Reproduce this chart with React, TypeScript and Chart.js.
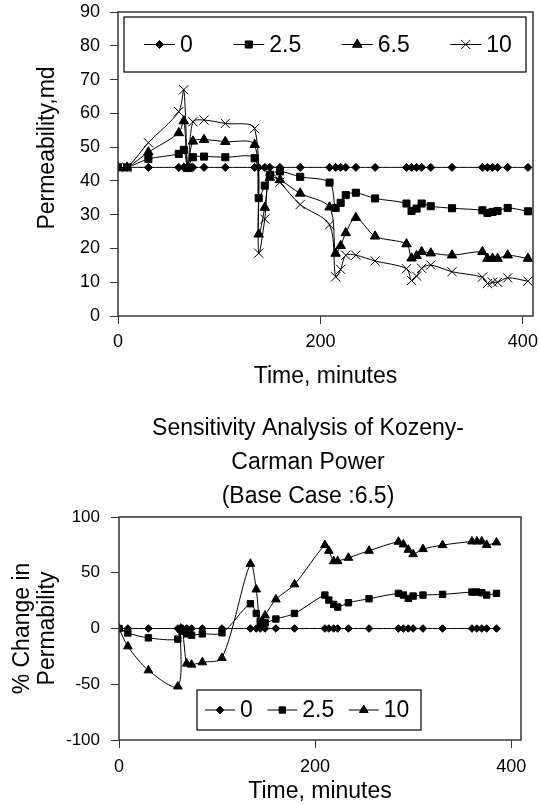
import React, { useEffect, useRef } from "react";
import { Chart, registerables } from "chart.js";
import { drawPoint } from "chart.js/helpers";

Chart.register(...registerables);

const FONT = '"Liberation Sans", Arial, Helvetica, sans-serif';

// ---------- Top chart: Permeability vs time ----------
const TOP_SERIES = ["0", "2.5", "6.5", "10"];
const TOP_TIME = [0, 9, 30, 60, 65, 69, 74, 85, 106, 135, 139, 145, 150, 160, 180, 209, 215, 220, 225, 235, 254, 285, 290, 295, 300, 309, 330, 360, 365, 370, 375, 385, 405];
const TOP_P0 = [44, 44, 44, 44, 44, 44, 44, 44, 44, 44, 44, 44, 44, 44, 44, 44, 44, 44, 44, 44, 44, 44, 44, 44, 44, 44, 44, 44, 44, 44, 44, 44, 44];
const TOP_P25 = [44, 44, 46.5, 48, 49.2, 43.8, 47, 47.2, 47, 46.7, 34.9, 38.6, 41.8, 42.8, 41.2, 39.5, 32, 33.5, 35.8, 36.5, 34.8, 33.3, 31.1, 31.8, 33.3, 32.5, 31.9, 31.3, 30.5, 30.8, 31.1, 32, 31];
const TOP_P65 = [44, 44, 48.5, 54.2, 57.7, 44, 51.7, 52.2, 51.6, 50.7, 24.2, 32.1, 41, 40.3, 36.3, 32.2, 18.5, 20.8, 24.6, 29.1, 23.6, 21.3, 17.1, 17.8, 19, 18.6, 18, 19, 17, 17, 17, 18, 17];
const TOP_P10 = [44, 44, 51.3, 60.5, 67, 44, 57.5, 58, 57, 55.5, 18.6, 28.7, 43, 39.6, 33, 27, 11.6, 13.8, 18, 18, 16.3, 14, 10.5, 11.8, 14.1, 15.1, 13.1, 11.5, 9.6, 10, 10, 11.3, 10.3];
const TOP_X_TICKS = [0, 200, 400];
const TOP_Y_TICKS = [0, 10, 20, 30, 40, 50, 60, 70, 80, 90];
const TOP_X_TITLE = "Time, minutes";
const TOP_Y_TITLE = "Permeability,md";

// ---------- Bottom chart: % change ----------
const BOT_SERIES = ["0", "2.5", "10"];
const BOT_TIME = [0, 9, 30, 60, 63, 65, 69, 74, 85, 105, 134, 140, 144, 149, 160, 179, 210, 214, 219, 223, 234, 255, 285, 290, 295, 300, 310, 330, 360, 365, 370, 375, 385];
const BOT_C0 = [0, 0, 0, 0, 0, 0, 0, 0, 0, 0, 0, 0, 0, 0, 0, 0, 0, 0, 0, 0, 0, 0, 0, 0, 0, 0, 0, 0, 0, 0, 0, 0, 0];
const BOT_C25 = [0, -4, -8.4, -9.5, -1, -2, -4.8, -6, -4.8, -3.9, 22.2, 13.5, 6.6, 5.1, 8.5, 13.5, 30, 25.5, 21.6, 19.2, 23.1, 26.7, 31.5, 30, 27, 29.1, 30, 30.6, 32.7, 32.7, 32.1, 30, 31.5];
const BOT_C10 = [0, -16, -37.5, -52, 0, -3, -31.5, -32.4, -30.3, -26.4, 58, 35, 3, 11.7, 26.1, 39.6, 74.8, 69.7, 60.4, 60.4, 63.4, 69.7, 77.8, 75.4, 70.6, 66.7, 71.2, 74.8, 78.1, 78.1, 78.1, 75, 77.2];
const BOT_X_TICKS = [0, 200, 400];
const BOT_Y_TICKS = [-100, -50, 0, 50, 100];
const BOT_TITLE = ["Sensitivity Analysis of Kozeny-", "Carman Power", "(Base Case :6.5)"];
const BOT_X_TITLE = "Time, minutes";
const BOT_Y_TITLE = ["% Change in", "Permability"];

function series(label: string, time: number[], vals: number[], style: string, radius: number) {
  return {
    label,
    data: vals.map((v, i) => ({ x: time[i], y: v })),
    borderColor: "#000",
    backgroundColor: "#000",
    borderWidth: 1,
    pointStyle: style,
    pointRadius: radius,
    pointHoverRadius: radius,
    pointBackgroundColor: "#000",
    pointBorderColor: "#000",
    pointBorderWidth: 1,
    tension: 0.3,
    fill: false,
  };
}

const framePlugin = {
  id: "frame",
  afterDatasetsDraw(chart: any) {
    const { ctx, chartArea: a } = chart;
    ctx.save();
    ctx.strokeStyle = "#333";
    ctx.lineWidth = 1.5;
    ctx.strokeRect(a.left, a.top, a.right - a.left, a.bottom - a.top);
    ctx.restore();
  },
};

function makeLegend(cfg: any) {
  return {
    id: "boxLegend",
    afterDraw(chart: any) {
      const { ctx, chartArea: a } = chart;
      const left = a.left + cfg.offsetX;
      const top = cfg.anchor === "bottom" ? a.bottom - cfg.offsetY - cfg.height : a.top + cfg.offsetY;
      ctx.save();
      ctx.fillStyle = "#fff";
      ctx.fillRect(left, top, cfg.width, cfg.height);
      ctx.strokeStyle = "#000";
      ctx.lineWidth = 1.2;
      ctx.strokeRect(left, top, cfg.width, cfg.height);
      ctx.font = `${cfg.fontSize}px ${FONT}`;
      ctx.textBaseline = "middle";
      ctx.textAlign = "left";
      const cy = top + cfg.height / 2;
      let x = left + cfg.padLeft;
      chart.data.datasets.forEach((ds: any) => {
        ctx.strokeStyle = "#000";
        ctx.lineWidth = 1;
        ctx.beginPath();
        ctx.moveTo(x, cy);
        ctx.lineTo(x + cfg.lineLen, cy);
        ctx.stroke();
        ctx.fillStyle = "#000";
        drawPoint(ctx, { pointStyle: ds.pointStyle, radius: ds.pointRadius, rotation: 0, borderWidth: 1 } as any, x + cfg.lineLen / 2, cy);
        const tx = x + cfg.lineLen + cfg.gap;
        ctx.fillStyle = "#000";
        ctx.fillText(ds.label, tx, cy + 1);
        x = tx + ctx.measureText(ds.label).width + cfg.itemGap;
      });
      ctx.restore();
    },
  };
}

function makeText(items: any[]) {
  return {
    id: "freeText",
    afterDraw(chart: any) {
      const { ctx, chartArea: a } = chart;
      items.forEach((it) => {
        ctx.save();
        ctx.font = `${it.size}px ${FONT}`;
        ctx.fillStyle = "#000";
        ctx.textAlign = "center";
        ctx.textBaseline = "middle";
        const cx = it.fromCenter ? (a.left + a.right) / 2 + it.x : it.x;
        ctx.translate(cx, it.y);
        if (it.rotate) ctx.rotate(it.rotate);
        it.lines.forEach((ln: string, i: number) => ctx.fillText(ln, 0, i * it.lineHeight));
        ctx.restore();
      });
    },
  };
}

function tickAxis(ticks: number[], min: number, max: number, fit: (s: any) => void, tickSize: number, pad: number, title: any) {
  return {
    type: "linear",
    min,
    max,
    afterBuildTicks: (s: any) => {
      s.ticks = ticks.map((v) => ({ value: v }));
    },
    afterFit: (s: any) => {
      fit(s);
      s.paddingLeft = 0;
      s.paddingRight = 0;
      s.paddingTop = 0;
      s.paddingBottom = 0;
    },
    ticks: { font: { family: FONT, size: tickSize }, color: "#000", padding: pad, maxRotation: 0, autoSkip: false },
    grid: { display: true, drawOnChartArea: false, drawTicks: true, tickLength: 8, color: "#333", lineWidth: 1 },
    border: { display: false },
    title,
  };
}

export default function App() {
  const topRef = useRef<HTMLCanvasElement>(null);
  const botRef = useRef<HTMLCanvasElement>(null);

  useEffect(() => {
    const top = new Chart(topRef.current as HTMLCanvasElement, {
      type: "line",
      data: {
        datasets: [
          series(TOP_SERIES[0], TOP_TIME, TOP_P0, "rectRot", 4),
          series(TOP_SERIES[1], TOP_TIME, TOP_P25, "rect", 5),
          series(TOP_SERIES[2], TOP_TIME, TOP_P65, "triangle", 5.5),
          series(TOP_SERIES[3], TOP_TIME, TOP_P10, "crossRot", 6.5),
        ] as any,
      },
      options: {
        animation: false,
        responsive: false,
        devicePixelRatio: 1,
        events: [],
        layout: { autoPadding: false, padding: { top: 12, right: 7, left: 0, bottom: 0 } },
        plugins: { legend: { display: false }, tooltip: { enabled: false }, title: { display: false } },
        scales: {
          x: tickAxis(TOP_X_TICKS, 0, 410, (s: any) => { s.height = 84; }, 18, 7, {
            display: true, text: TOP_X_TITLE, color: "#000",
            font: { family: FONT, size: 23, lineHeight: 1.2 }, padding: { top: 0, bottom: 10 },
          }),
          y: tickAxis(TOP_Y_TICKS, 0, 90, (s: any) => { s.width = 118; }, 18, 10, { display: false }),
        },
      } as any,
      plugins: [
        framePlugin,
        makeLegend({ offsetX: 6, offsetY: 5, width: 402, height: 55, anchor: "top", padLeft: 20, lineLen: 31, gap: 5, itemGap: 40.5, fontSize: 23 }),
        makeText([{ lines: [TOP_Y_TITLE], x: 48, y: 148, size: 23, lineHeight: 26, rotate: -Math.PI / 2 }]),
      ],
    });

    const bot = new Chart(botRef.current as HTMLCanvasElement, {
      type: "line",
      data: {
        datasets: [
          series(BOT_SERIES[0], BOT_TIME, BOT_C0, "rectRot", 3.8),
          series(BOT_SERIES[1], BOT_TIME, BOT_C25, "rect", 4.5),
          series(BOT_SERIES[2], BOT_TIME, BOT_C10, "triangle", 5),
        ] as any,
      },
      options: {
        animation: false,
        responsive: false,
        devicePixelRatio: 1,
        events: [],
        layout: { autoPadding: false, padding: { top: 117, right: 19, left: 0, bottom: 0 } },
        plugins: { legend: { display: false }, tooltip: { enabled: false }, title: { display: false } },
        scales: {
          x: tickAxis(BOT_X_TICKS, 0, 410, (s: any) => { s.height = 64; }, 18, 8, {
            display: true, text: BOT_X_TITLE, color: "#000",
            font: { family: FONT, size: 23, lineHeight: 1.0 }, padding: { top: 0, bottom: 0.5 },
          }),
          y: tickAxis(BOT_Y_TICKS, -100, 100, (s: any) => { s.width = 119; }, 17, 11, {
            display: true, text: BOT_Y_TITLE, color: "#000",
            font: { family: FONT, size: 23, lineHeight: 1.1 }, padding: { top: 10, bottom: 0 },
          }),
        },
      } as any,
      plugins: [
        framePlugin,
        makeLegend({ offsetX: 78, offsetY: 10, width: 224, height: 40, anchor: "bottom", padLeft: 8, lineLen: 30, gap: 5, itemGap: 14.5, fontSize: 23 }),
        makeText([{ lines: BOT_TITLE, x: -12, fromCenter: true, y: 29, size: 23, lineHeight: 34 }]),
      ],
    });

    return () => {
      top.destroy();
      bot.destroy();
    };
  }, []);

  return (
    <div style={{ position: "absolute", left: 0, top: 0, width: 540, height: 804, background: "#fff", overflow: "hidden" }}>
      <canvas ref={topRef} width={540} height={400} style={{ position: "absolute", left: 0, top: 0, width: 540, height: 400 }} />
      <canvas ref={botRef} width={540} height={404} style={{ position: "absolute", left: 0, top: 400, width: 540, height: 404 }} />
    </div>
  );
}
